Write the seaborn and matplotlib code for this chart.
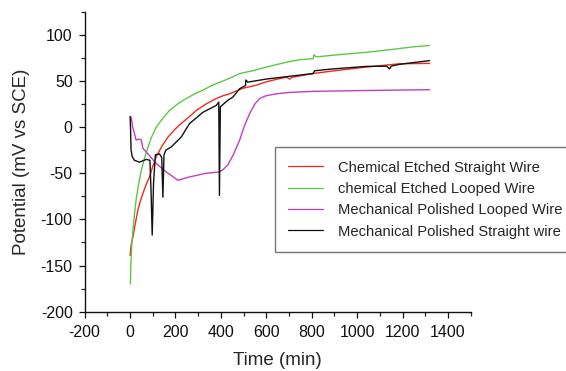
import matplotlib
matplotlib.use("Agg")
import matplotlib.pyplot as plt
import seaborn as sns
import pandas as pd
from matplotlib.ticker import MultipleLocator

sns.set_style("ticks")
plt.rcParams['font.family'] = ['Liberation Sans', 'DejaVu Sans']
plt.rcParams['axes.unicode_minus'] = False

labels = ["Chemical Etched Straight Wire", "chemical Etched Looped Wire",
          "Mechanical Polished Looped Wire", "Mechanical Polished Straight wire"]
colors = ["#ee2a1e", "#5cc847", "#c03ec0", "#111111"]

red_t = [1, 5, 13, 24, 35, 46, 57, 70, 86, 100, 116, 140, 167, 196, 226, 260, 292, 335, 380, 410, 438, 497, 550, 600, 650,
         690, 703, 715, 760, 806, 900, 1040, 1187, 1319]
red_v = [-139, -128, -119, -104, -90, -80, -72, -63, -54, -43, -32, -21, -11, -3, 4, 11, 18, 25, 31, 34, 36, 42, 45, 49, 52,
         54, 52, 54, 56, 58, 61, 65, 68.6, 69]

green_t = [2, 4, 8, 13, 20, 27, 38, 50, 65, 79, 95, 116, 140, 174, 210, 248, 285, 321, 360, 400, 440, 483, 540, 600, 650,
           703, 750, 800, 806, 810, 820, 900, 1040, 1150, 1250, 1319]
green_v = [-170, -150, -128, -112, -95, -79, -62, -47, -33, -22, -11, 0, 8, 18, 25, 31, 36, 40, 45, 49, 53, 58, 61, 65, 68,
           71, 73, 74, 74, 78.4, 76, 78, 81, 84, 87, 88.4]

mag_t = [3, 6, 12, 20, 27, 40, 50, 57, 79, 116, 160, 211, 262, 336, 394, 410, 431, 455, 483, 505, 527, 550, 571, 600, 644,
         700, 806, 1000, 1319]
mag_v = [11, 10, 0, -7, -14, -13, -14, -23, -29, -39.5, -48.6, -57.6, -54, -50, -48.6, -46, -41, -30, -14, 2, 14.6, 25, 31,
         34, 36, 37.5, 38.7, 39.5, 40.5]

blk_t = [1, 3, 5, 10, 20, 42, 72, 88, 93, 98, 104, 112, 130, 140, 145, 150, 158, 182, 226, 262, 321, 380, 391, 394, 398,
         431, 453, 483, 509, 510, 519, 600, 703, 806, 813, 893, 1040, 1130, 1143, 1150, 1187, 1319]
blk_v = [11.6, -5, -25, -32, -36, -38, -35, -36, -70, -117, -60, -30, -29, -33, -76, -30, -25, -21.5, -10.7, 3.7, 16, 23.5,
         27, -74, 22, 29, 32.5, 41.6, 45, 51, 48.7, 52, 55, 58, 61, 63, 65.7, 66, 63, 66, 68, 72]

series = [(red_t, red_v), (green_t, green_v), (mag_t, mag_v), (blk_t, blk_v)]
frames = []
for lab, (t, v) in zip(labels, series):
    frames.append(pd.DataFrame({"Time": t, "Potential": v, "Series": lab}))
df = pd.concat(frames, ignore_index=True)

fig = plt.figure(figsize=(5.66, 3.71), dpi=100)
ax = fig.add_axes([0.1493, 0.1598, 0.8316 - 0.1493, 0.9685 - 0.1598])

sns.lineplot(data=df, x="Time", y="Potential", hue="Series", hue_order=labels,
             palette=dict(zip(labels, colors)), estimator=None, sort=False,
             linewidth=1.0, ax=ax, legend=True)

ax.set_xlim(-200, 1500)
ax.set_ylim(-200, 125)
ax.xaxis.set_major_locator(MultipleLocator(200))
ax.xaxis.set_minor_locator(MultipleLocator(100))
ax.yaxis.set_major_locator(MultipleLocator(50))
ax.yaxis.set_minor_locator(MultipleLocator(25))
ax.set_xticks(range(-200, 1401, 200))
ax.tick_params(which='major', direction='out', length=4.5, width=0.9, labelsize=11.5, colors='#111111')
ax.tick_params(axis='x', which='major', pad=5)
ax.tick_params(axis='y', which='major', pad=4)
ax.tick_params(which='minor', direction='out', length=3, width=0.9)
for s in ["top", "right"]:
    ax.spines[s].set_visible(False)
for s in ["left", "bottom"]:
    ax.spines[s].set_linewidth(1.0)
    ax.spines[s].set_color('#111111')

ax.set_xlabel("Time (min)", fontsize=13.5, labelpad=9)
ax.set_ylabel("Potential (mV vs SCE)", fontsize=13.5, labelpad=8)

handles, labs = ax.get_legend_handles_labels()
for h in handles:
    h.set_linewidth(0.9)
leg = ax.legend(handles, labs, loc='upper left', bbox_to_anchor=(274.7 / 566, 1 - 147.3 / 371),
                bbox_transform=fig.transFigure, fontsize=10.6, frameon=True, fancybox=False,
                handlelength=2.4, handletextpad=1.0, borderpad=0.9, labelspacing=0.5,
                borderaxespad=0)
leg.get_frame().set_edgecolor('#555555')
leg.get_frame().set_linewidth(1.0)

fig.savefig("out.png", dpi=100)
